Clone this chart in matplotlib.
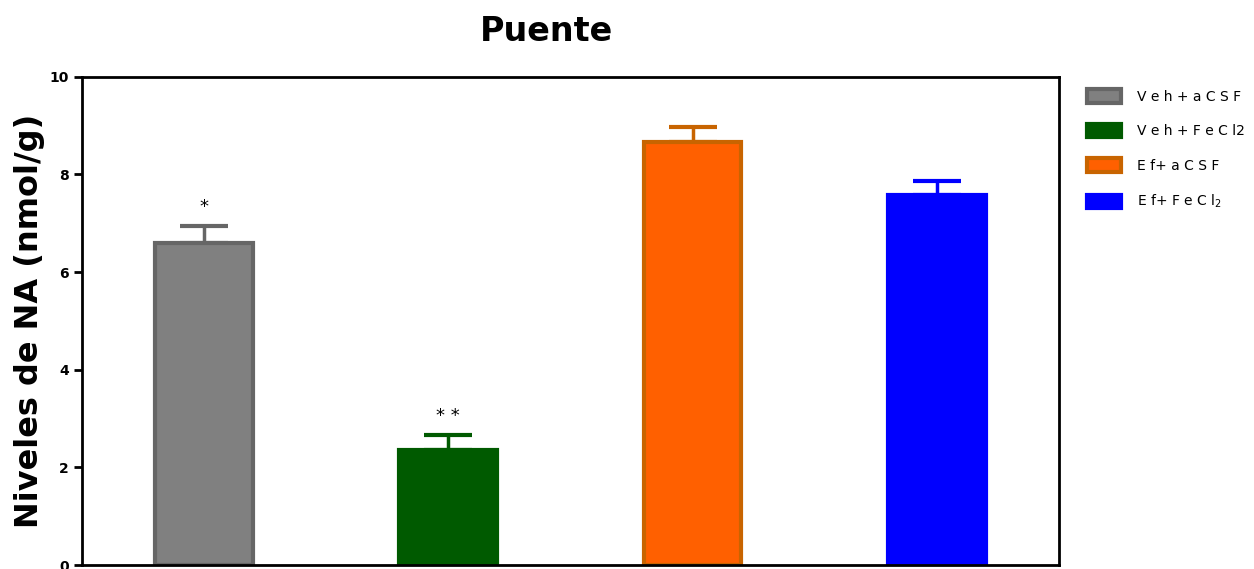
import numpy as np
import matplotlib.pyplot as plt
from matplotlib.patches import Patch

# grupos y medias (nmol/g) con su error estandar
groups = ['V e h + a C S F', 'V e h + F e C l2', 'E f+ a C S F', 'E f+ F e C l$_2$']
means = [6.60, 2.36, 8.67, 7.57]
sem = [0.35, 0.30, 0.30, 0.30]
marks = ['*', '* *', '', '']

fills = ['#808080', '#005a00', '#ff6000', '#0000ff']
edges = ['#666666', '#005a00', '#c86400', '#0000ff']

fig = plt.figure(figsize=(12.54, 5.69), dpi=100)
ax = fig.add_axes([0.0654, 0.007, 0.779, 0.858])

x = np.arange(len(groups))
ax.bar(x, means, width=0.40, color=fills, edgecolor=edges, linewidth=3, zorder=2)
for i in range(len(groups)):
    ax.errorbar(x[i], means[i], yerr=[[0], [sem[i]]], fmt='none', ecolor=edges[i],
                elinewidth=2.5, capsize=17, capthick=3, zorder=1)
    if marks[i]:
        ax.text(x[i], means[i] + sem[i] + 0.2, marks[i], ha='center', va='bottom',
                fontsize=13, color='black')

ax.set_xlim(-0.5, 3.5)
ax.set_ylim(0, 10)
ax.set_yticks(np.arange(0, 11, 2))
ax.set_xticks(x)
ax.set_xticklabels([])
ax.tick_params(axis='x', direction='in', length=5, width=2)
ax.tick_params(axis='y', direction='out', length=6, width=2, labelsize=10)
for lab in ax.get_yticklabels():
    lab.set_fontweight('bold')
for s in ax.spines.values():
    s.set_linewidth(2)

ax.set_title('Puente', fontsize=24, fontweight='bold', pad=26, x=0.475)
ax.set_ylabel('Niveles de NA (nmol/g)', fontsize=23, fontweight='bold', labelpad=3)

handles = [Patch(facecolor=fills[i], edgecolor=edges[i], linewidth=3) for i in range(4)]
fig.legend(handles, groups, loc='upper left', bbox_to_anchor=(0.857, 0.865),
           frameon=False, fontsize=10, handlelength=2.4, handleheight=1.1,
           labelspacing=1.45, handletextpad=1.2)

plt.savefig('out.png', dpi=100)
